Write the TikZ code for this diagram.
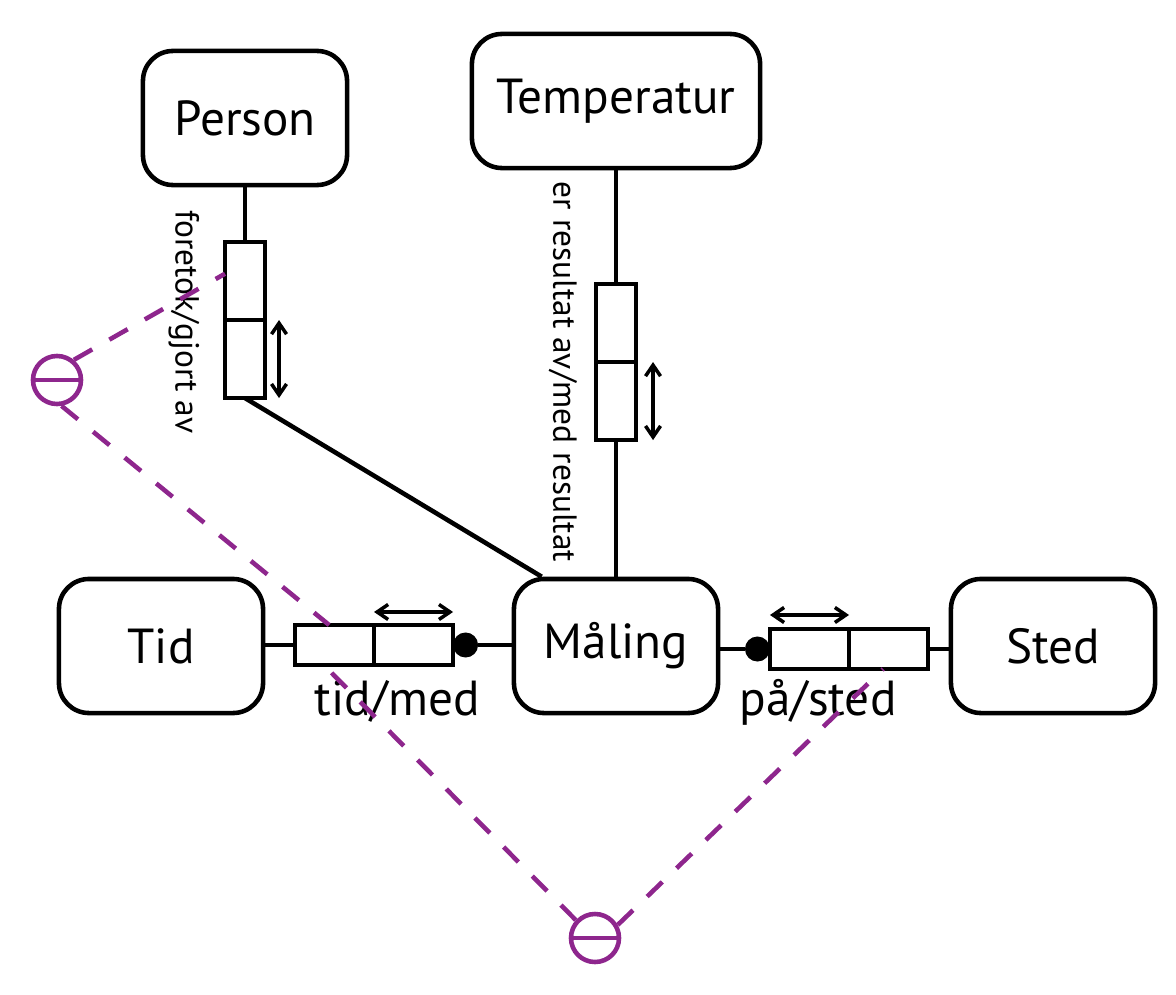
\documentclass[tikz,border=0pt]{standalone}
\usepackage{fontspec}
\setmainfont{PT Sans}
\usetikzlibrary{arrows.meta,positioning}
\definecolor{exclpurple}{RGB}{142,38,141}

\begin{document}
\begin{tikzpicture}
  [x=0.01cm,y=-0.01cm,line width=1.3pt,
   entity/.style={draw,rounded corners=0.3cm,minimum width=2.04cm,
     minimum height=1.34cm,font=\fontsize{14}{16}\selectfont},
   vcell/.style={draw,fill=white,minimum width=0.4cm,minimum height=0.78cm,
     inner sep=0pt,outer sep=0pt},
   hcell/.style={draw,fill=white,minimum width=0.79cm,minimum height=0.4cm,
     inner sep=0pt,outer sep=0pt},
   uniq/.style={line width=1pt,
     {Straight Barb[length=1.1mm,width=1.5mm]}-{Straight Barb[length=1.1mm,width=1.5mm]}},
   mandot/.style={circle,fill,minimum size=0.25cm,inner sep=0pt,outer sep=0pt},
   excl/.style={circle,draw=exclpurple,minimum size=0.48cm,inner sep=0pt},
   exclline/.style={exclpurple,dash pattern=on 6pt off 5.6pt},
   rolename/.style={font=\fontsize{14}{16}\selectfont,anchor=base},
   vname/.style={font=\fontsize{9.5}{11}\selectfont,rotate=-90}]

  \useasboundingbox (0,0) rectangle (1176,994);

  % entity types
  \node[entity] (person) at (245,118) {Person};
  \node[entity,minimum width=2.88cm] (temp) at (616,101) {Temperatur};
  \node[entity] (tid) at (161,646) {Tid};
  \node[entity] (maaling) at (616,646) {Måling};
  \node[entity] (sted) at (1053,646) {Sted};

  % roles
  \node[vcell] (pr1) at (245,281) {};
  \node[vcell,below=0pt of pr1] (pr2) {};
  \node[vcell] (rr1) at (616,323) {};
  \node[vcell,below=0pt of rr1] (rr2) {};
  \node[hcell] (tr1) at (334.5,645) {};
  \node[hcell,right=0pt of tr1] (tr2) {};
  \node[hcell] (sr1) at (809.5,649) {};
  \node[hcell,right=0pt of sr1] (sr2) {};
  \node[mandot,right=0pt of tr2] (tdot) {};
  \node[mandot,left=0pt of sr1] (sdot) {};

  \draw (person) -- (pr1);
  \draw (pr2.south) -- (maaling.137);
  \draw (temp) -- (rr1);
  \draw (rr2) -- (maaling);
  \draw (tr1.west -| tid.east) -- (tr1.west);
  \draw (tdot) -- (tdot -| maaling.west);
  \draw (sdot -| maaling.east) -- (sdot);
  \draw (sr2.east) -- (sr2.east -| sted.west);

  % uniqueness
  \draw[uniq] ([xshift=0.14cm]pr2.north east) -- ([xshift=0.14cm]pr2.south east);
  \draw[uniq] ([xshift=0.17cm]rr2.north east) -- ([xshift=0.17cm]rr2.south east);
  \draw[uniq] ([yshift=0.13cm]tr2.north west) -- ([yshift=0.13cm]tr2.north east);
  \draw[uniq] ([yshift=0.14cm]sr1.north west) -- ([yshift=0.14cm]sr1.north east);

  \node[vname] (prname) at (184,322) {foretok/gjort av};
  \node[vname] (rrname) at (563,372) {er resultat av/med resultat};
  \node[rolename] (trname) at (397,715) {tid/med};
  \node[rolename] (srname) at (818,715) {på/sted};

  % exclusion
  \node[excl] (ex1) at (57,380) {};
  \node[excl] (ex2) at (595,938) {};
  \draw[exclpurple] (ex1.west) -- (ex1.east);
  \draw[exclpurple] (ex2.west) -- (ex2.east);
  \draw[exclline] (ex1.50) -- (pr1.160);
  \draw[exclline] (ex1.-80) -- (tr1.105);
  \draw[exclline] (ex2.137) -- (tr1.-118);
  \draw[exclline] (ex2.30) -- (sr2.-105);
\end{tikzpicture}
\end{document}
